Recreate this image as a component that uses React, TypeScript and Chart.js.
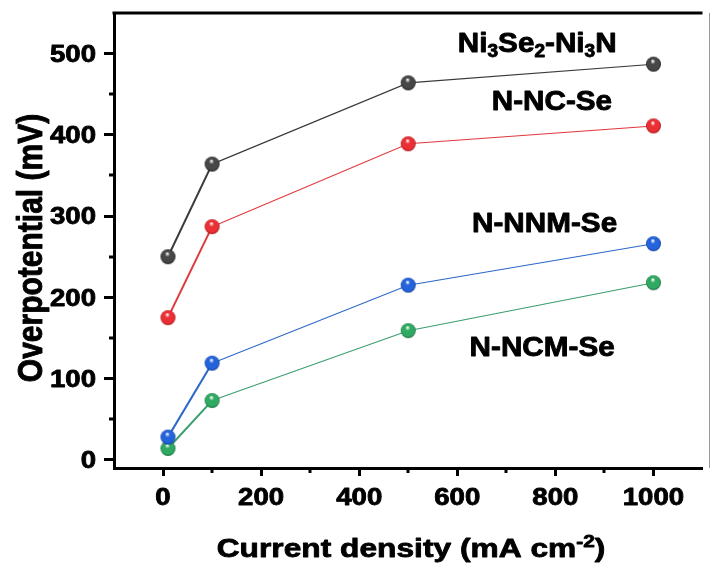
import { useEffect, useRef } from "react";
import { Chart, registerables } from "chart.js";

Chart.register(...registerables);

// ---- data ----
const currentDensity = [10, 100, 500, 1000];
const ni3se2Ni3n = [250, 364, 464, 487];
const nNcSe = [175, 287, 389, 411];
const nNnmSe = [28, 119, 215, 266];
const nNcmSe = [14, 73, 159, 218];

const xTicks = [0, 200, 400, 600, 800, 1000];
const xMinorTicks = [100, 300, 500, 700, 900];
const yTicks = [0, 100, 200, 300, 400, 500];
const yMinorTicks = [50, 150, 250, 350, 450];

const xTitle = "Current density (mA cm";
const xTitleSup = "-2";
const xTitleEnd = ")";
const yTitle = "Overpotential (mV)";

// series labels as text parts (sub = subscript)
type Part = { t: string; sub?: boolean };
const labelNi3Se2: Part[] = [
  { t: "Ni" }, { t: "3", sub: true }, { t: "Se" }, { t: "2", sub: true },
  { t: "-Ni" }, { t: "3", sub: true }, { t: "N" },
];
const labelNcSe: Part[] = [{ t: "N-NC-Se" }];
const labelNnmSe: Part[] = [{ t: "N-NNM-Se" }];
const labelNcmSe: Part[] = [{ t: "N-NCM-Se" }];

// label anchors in data coordinates (center x, baseline y)
const annotations = [
  { parts: labelNi3Se2, x: 763, y: 502 },
  { parts: labelNcSe, x: 793, y: 431 },
  { parts: labelNnmSe, x: 778, y: 281 },
  { parts: labelNcmSe, x: 773, y: 128 },
];

const FONT = "'Liberation Sans', Arial, Helvetica, sans-serif";

function makeBall(base: string, dark: string, r: number) {
  const size = Math.ceil(r * 2) + 2;
  const c = document.createElement("canvas");
  c.width = size;
  c.height = size;
  const g = c.getContext("2d")!;
  const cx = size / 2;
  const cy = size / 2;
  const grad = g.createRadialGradient(cx - r * 0.1, cy - r * 0.45, r * 0.05, cx, cy, r);
  grad.addColorStop(0, "#ffffff");
  grad.addColorStop(0.3, base);
  grad.addColorStop(0.8, base);
  grad.addColorStop(1, dark);
  g.fillStyle = grad;
  g.beginPath();
  g.arc(cx, cy, r, 0, Math.PI * 2);
  g.fill();
  return c;
}

function drawStretched(ctx: CanvasRenderingContext2D, text: string, x: number, y: number, align: CanvasTextAlign, sx: number, stroke = 0.8) {
  ctx.save();
  ctx.translate(x, y);
  ctx.scale(sx, 1);
  ctx.textAlign = align;
  ctx.textBaseline = "alphabetic";
  ctx.fillText(text, 0, 0);
  if (stroke > 0) {
    ctx.lineWidth = stroke;
    ctx.lineJoin = "round";
    ctx.strokeStyle = ctx.fillStyle as string;
    ctx.strokeText(text, 0, 0);
  }
  ctx.restore();
}

const customPlugin = {
  id: "customDecor",
  afterDraw(chart: any) {
    const { ctx, chartArea } = chart;
    const xs = chart.scales.x;
    const ys = chart.scales.y;
    ctx.save();
    // top frame
    ctx.strokeStyle = "#000";
    ctx.lineWidth = 3;
    ctx.beginPath();
    ctx.moveTo(chartArea.left - 1.5, chartArea.top);
    ctx.lineTo(chartArea.right, chartArea.top);
    ctx.stroke();
    // right frame (thin)
    ctx.strokeStyle = "#9a9a9a";
    ctx.lineWidth = 1;
    ctx.beginPath();
    ctx.moveTo(709.5, chartArea.top);
    ctx.lineTo(709.5, chartArea.bottom);
    ctx.stroke();
    // minor ticks
    ctx.strokeStyle = "#000";
    ctx.lineWidth = 3;
    for (const v of xMinorTicks) {
      const px = Math.round(xs.getPixelForValue(v));
      ctx.beginPath();
      ctx.moveTo(px, chartArea.bottom + 1);
      ctx.lineTo(px, chartArea.bottom + 5);
      ctx.stroke();
    }
    for (const v of yMinorTicks) {
      const py = Math.round(ys.getPixelForValue(v));
      ctx.beginPath();
      ctx.moveTo(chartArea.left - 1, py);
      ctx.lineTo(chartArea.left - 5, py);
      ctx.stroke();
    }
    // tick labels
    ctx.fillStyle = "#000";
    ctx.font = `bold 23px ${FONT}`;
    for (const v of xTicks) {
      drawStretched(ctx, String(v), xs.getPixelForValue(v), 505, "center", 1.2);
    }
    for (const v of yTicks) {
      drawStretched(ctx, String(v), 96, ys.getPixelForValue(v) + 8.3, "right", 1.2);
    }
    // x title with superscript
    const sx = 1.22;
    const mainFont = `bold 26px ${FONT}`;
    const supFont = `bold 17px ${FONT}`;
    ctx.font = mainFont;
    const w1 = ctx.measureText(xTitle).width;
    const w3 = ctx.measureText(xTitleEnd).width;
    ctx.font = supFont;
    const w2 = ctx.measureText(xTitleSup).width;
    const total = (w1 + w2 + w3) * sx;
    let cx = 411 - total / 2;
    const base = 557;
    ctx.font = mainFont;
    drawStretched(ctx, xTitle, cx, base, "left", sx);
    cx += w1 * sx;
    ctx.font = supFont;
    drawStretched(ctx, xTitleSup, cx, base - 10, "left", sx);
    cx += w2 * sx;
    ctx.font = mainFont;
    drawStretched(ctx, xTitleEnd, cx, base, "left", sx);
    // y title
    ctx.save();
    ctx.font = `bold 30px ${FONT}`;
    ctx.translate(42, 248);
    ctx.scale(1.15, 1);
    ctx.rotate(-Math.PI / 2);
    ctx.textAlign = "center";
    ctx.textBaseline = "alphabetic";
    ctx.fillText(yTitle, 0, 0);
    ctx.lineWidth = 0.8;
    ctx.lineJoin = "round";
    ctx.strokeStyle = "#000";
    ctx.strokeText(yTitle, 0, 0);
    ctx.restore();
    // series labels
    const lsx = 1.06;
    for (const a of annotations) {
      const widths = a.parts.map((p) => {
        ctx.font = p.sub ? `bold 18px ${FONT}` : `bold 28px ${FONT}`;
        return ctx.measureText(p.t).width;
      });
      const tw = widths.reduce((s, w) => s + w, 0) * lsx;
      let lx = xs.getPixelForValue(a.x) - tw / 2;
      const ly = ys.getPixelForValue(a.y);
      a.parts.forEach((p, i) => {
        ctx.font = p.sub ? `bold 18px ${FONT}` : `bold 28px ${FONT}`;
        drawStretched(ctx, p.t, lx, p.sub ? ly + 5 : ly, "left", lsx, 0.9);
        lx += widths[i] * lsx;
      });
    }
    ctx.restore();
  },
};

export default function App() {
  const ref = useRef<HTMLCanvasElement | null>(null);

  useEffect(() => {
    if (!ref.current) return;
    const r = 7.5;
    const balls = [
      makeBall("#474747", "#1e1e1e", r),
      makeBall("#ea2f35", "#a8161b", r),
      makeBall("#2364dc", "#123c96", r),
      makeBall("#30aa62", "#1a7040", r),
    ];
    const lineColors = ["#3a3a3a", "#e0383c", "#2c68c8", "#3a9e6e"];
    const series = [ni3se2Ni3n, nNcSe, nNnmSe, nNcmSe];
    const names = ["Ni3Se2-Ni3N", "N-NC-Se", "N-NNM-Se", "N-NCM-Se"];

    const chart = new Chart(ref.current, {
      type: "line",
      data: {
        datasets: series.map((s, i) => ({
          label: names[i],
          data: currentDensity.map((x, j) => ({ x, y: s[j] })),
          borderColor: lineColors[i],
          borderWidth: 1,
          pointStyle: balls[i] as any,
          pointRadius: r,
          fill: false,
          tension: 0,
          segment: {
            borderWidth: (c: any) => (c.p0DataIndex === 0 ? 2 : 1.1),
          },
        })),
      },
      options: {
        animation: false,
        responsive: false,
        devicePixelRatio: 1,
        events: [],
        layout: { padding: { top: 13, right: 0, left: 0, bottom: 0 } },
        plugins: {
          legend: { display: false },
          tooltip: { enabled: false },
        },
        scales: {
          x: {
            type: "linear",
            min: -100,
            max: 1100,
            afterBuildTicks: (scale: any) => {
              scale.ticks = xTicks.map((v) => ({ value: v }));
            },
            afterFit: (scale: any) => {
              scale.height = 99;
            },
            ticks: { display: false },
            grid: {
              drawOnChartArea: false,
              drawTicks: true,
              tickLength: 8,
              tickWidth: 3,
              tickColor: "#000",
            },
            border: { display: true, color: "#000", width: 3 },
          },
          y: {
            type: "linear",
            min: -10,
            max: 550,
            afterBuildTicks: (scale: any) => {
              scale.ticks = yTicks.map((v) => ({ value: v }));
            },
            afterFit: (scale: any) => {
              scale.width = 114;
            },
            ticks: { display: false },
            grid: {
              drawOnChartArea: false,
              drawTicks: true,
              tickLength: 10,
              tickWidth: 3,
              tickColor: "#000",
            },
            border: { display: true, color: "#000", width: 3 },
          },
        },
      },
      plugins: [customPlugin],
    });
    return () => chart.destroy();
  }, []);

  return (
    <div style={{ position: "fixed", left: 0, top: 0, width: 711, height: 567, background: "#fff" }}>
      <canvas ref={ref} width={711} height={567} style={{ display: "block", width: 711, height: 567 }} />
    </div>
  );
}
